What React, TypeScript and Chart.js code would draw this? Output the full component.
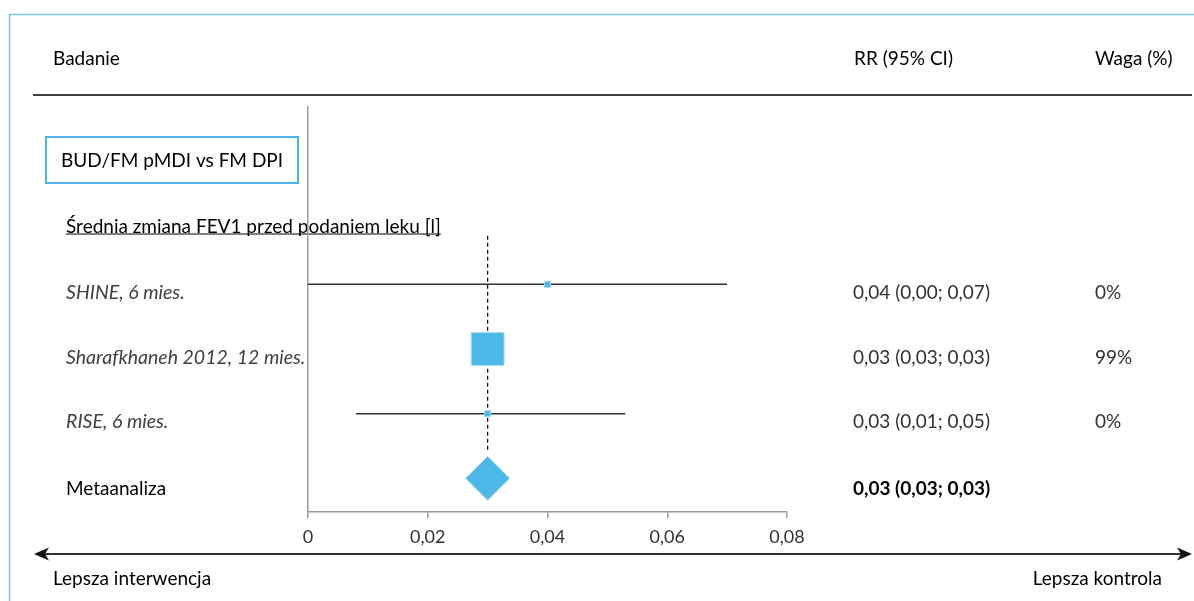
import React, { useEffect, useRef } from 'react';
import { Chart, registerables } from 'chart.js';

Chart.register(...registerables);

// ---- data ----
const studies = ['SHINE, 6 mies.', 'Sharafkhaneh 2012, 12 mies.', 'RISE, 6 mies.'];
const estimates = [0.04, 0.03, 0.03];
const ciLower = [0.0, 0.03, 0.008];
const ciUpper = [0.07, 0.03, 0.053];
const weights = [0, 99, 0];

const pooledLabel = 'Metaanaliza';
const pooledEstimate = [0.03];
const pooledLower = [0.03];
const pooledUpper = [0.03];

const xTicks = [0, 0.02, 0.04, 0.06, 0.08];
const columnHeaders = ['Badanie', 'RR (95% CI)', 'Waga (%)'];
const comparisonTitle = 'BUD/FM pMDI vs FM DPI';
const outcomeTitle = 'Średnia zmiana FEV1 przed podaniem leku [l]';
const directionLabels = ['Lepsza interwencja', 'Lepsza kontrola'];

// ---- styling ----
const FONT = 'Lato, "Open Sans", "DejaVu Sans", sans-serif';
const BLUE = '#4db8e8';
const BLUE_EDGE = '#a9daf2';
const W = 1194;
const H = 601;

const fmt = (v: number) => (v === 0 ? '0' : v.toFixed(2).replace('.', ','));
const fmt2 = (v: number) => v.toFixed(2).replace('.', ',');
const fmtCI = (e: number, lo: number, hi: number) => `${fmt2(e)} (${fmt2(lo)}; ${fmt2(hi)})`;

// marker size grows with the study weight
const markerRadius = (w: number) => 4.3 + 1.9 * Math.sqrt(w);

function arrowHead(ctx: CanvasRenderingContext2D, tipX: number, y: number, dir: number) {
  ctx.beginPath();
  ctx.moveTo(tipX, y);
  ctx.lineTo(tipX - dir * 15, y - 6.5);
  ctx.lineTo(tipX - dir * 11, y);
  ctx.lineTo(tipX - dir * 15, y + 6.5);
  ctx.closePath();
  ctx.fill();
}

const forestDecor = {
  id: 'forestDecor',
  beforeDraw(chart: any) {
    const ctx: CanvasRenderingContext2D = chart.ctx;
    ctx.save();
    ctx.fillStyle = '#ffffff';
    ctx.fillRect(0, 0, chart.width, chart.height);
    // outer frame
    ctx.strokeStyle = '#7dc4ea';
    ctx.lineWidth = 1.5;
    ctx.strokeRect(9.5, 14.5, 1300, 700);

    // outcome heading (underlined), under the axis line
    ctx.textBaseline = 'middle';
    ctx.textAlign = 'left';
    ctx.fillStyle = '#000';
    ctx.font = `19px ${FONT}`;
    ctx.fillText(outcomeTitle, 66, 227);
    const ow = ctx.measureText(outcomeTitle).width;
    ctx.strokeStyle = '#000';
    ctx.lineWidth = 1.2;
    ctx.beginPath();
    ctx.moveTo(66, 234);
    ctx.lineTo(66 + ow, 234);
    ctx.stroke();
    ctx.restore();
  },
  afterDraw(chart: any) {
    const ctx: CanvasRenderingContext2D = chart.ctx;
    const y = chart.scales.y;
    ctx.save();
    ctx.textBaseline = 'middle';

    // column headers
    ctx.fillStyle = '#000';
    ctx.font = `19px ${FONT}`;
    ctx.textAlign = 'left';
    ctx.fillText(columnHeaders[0], 53, 59);
    ctx.fillText(columnHeaders[1], 854, 59);
    ctx.fillText(columnHeaders[2], 1095, 59);

    // header rule
    ctx.strokeStyle = '#404040';
    ctx.lineWidth = 2;
    ctx.beginPath();
    ctx.moveTo(33, 95);
    ctx.lineTo(1192, 95);
    ctx.stroke();

    // comparison box
    ctx.fillStyle = '#fff';
    ctx.fillRect(46, 137, 252, 46);
    ctx.strokeStyle = '#4cb4e8';
    ctx.lineWidth = 2;
    ctx.strokeRect(46, 137, 252, 46);
    ctx.fillStyle = '#000';
    ctx.textAlign = 'center';
    ctx.fillText(comparisonTitle, 172, 161);

    // study rows
    ctx.textAlign = 'left';
    studies.forEach((name, i) => {
      const py = y.getPixelForValue(i + 1) + 8.5;
      ctx.font = `italic 19.5px ${FONT}`;
      ctx.fillStyle = '#404040';
      ctx.fillText(name, 66, py);
      ctx.font = `19px ${FONT}`;
      ctx.fillStyle = '#333';
      ctx.fillText(fmtCI(estimates[i], ciLower[i], ciUpper[i]), 853, py);
      ctx.fillText(`${weights[i]}%`, 1095, py);
    });

    // pooled row
    const my = y.getPixelForValue(studies.length + 1) + 11;
    ctx.fillStyle = '#000';
    ctx.font = `19px ${FONT}`;
    ctx.fillText(pooledLabel, 66, my);
    ctx.font = `bold 19px ${FONT}`;
    ctx.fillText(fmtCI(pooledEstimate[0], pooledLower[0], pooledUpper[0]), 853, my);

    // direction arrow
    ctx.strokeStyle = '#333';
    ctx.fillStyle = '#111';
    ctx.lineWidth = 2;
    ctx.beginPath();
    ctx.moveTo(40, 554);
    ctx.lineTo(1186, 554);
    ctx.stroke();
    arrowHead(ctx, 34, 554, -1);
    arrowHead(ctx, 1192, 554, 1);

    ctx.fillStyle = '#000';
    ctx.font = `19px ${FONT}`;
    ctx.textAlign = 'left';
    ctx.fillText(directionLabels[0], 53, 579);
    ctx.textAlign = 'right';
    ctx.fillText(directionLabels[1], 1162, 579);

    ctx.restore();
  },
};

export default function App() {
  const canvasRef = useRef<HTMLCanvasElement | null>(null);

  useEffect(() => {
    const canvas = canvasRef.current;
    if (!canvas) return;

    const rows = studies.map((_, i) => i + 1);
    const pooledRow = studies.length + 1;

    const chart = new Chart(canvas, {
      type: 'scatter',
      data: {
        datasets: [
          {
            type: 'scatter',
            label: 'Badania',
            data: estimates.map((e, i) => ({ x: e, y: rows[i] })),
            pointStyle: 'rect',
            pointRadius: weights.map(markerRadius),
            backgroundColor: BLUE,
            borderColor: BLUE_EDGE,
            borderWidth: 1,
            order: 0,
          },
          {
            type: 'scatter',
            label: pooledLabel,
            data: pooledEstimate.map((e) => ({ x: e, y: pooledRow })),
            pointStyle: 'rectRot',
            pointRadius: 22,
            backgroundColor: BLUE,
            borderColor: BLUE_EDGE,
            borderWidth: 1,
            order: 0,
          },
          ...studies.map((s, i) => ({
            type: 'line' as const,
            label: s,
            data: [
              { x: ciLower[i], y: rows[i] },
              { x: ciUpper[i], y: rows[i] },
            ],
            borderColor: '#333',
            borderWidth: 1.5,
            pointRadius: 0,
            showLine: true,
            order: 2,
          })),
          {
            type: 'line',
            label: 'ref',
            data: [
              { x: pooledEstimate[0], y: 0.25 },
              { x: pooledEstimate[0], y: 3.6 },
            ],
            borderColor: '#111',
            borderWidth: 1.3,
            borderDash: [4, 3],
            pointRadius: 0,
            showLine: true,
            order: 3,
          },
        ],
      },
      options: {
        responsive: false,
        animation: false,
        devicePixelRatio: 1,
        layout: { padding: { left: 308, right: W - 787, top: 107, bottom: H - 512 - 40 } },
        plugins: { legend: { display: false }, tooltip: { enabled: false } },
        scales: {
          x: {
            type: 'linear',
            min: xTicks[0],
            max: xTicks[xTicks.length - 1],
            afterBuildTicks: (scale: any) => {
              scale.ticks = xTicks.map((v) => ({ value: v }));
            },
            afterFit: (scale: any) => {
              scale.height = 40;
            },
            grid: { drawOnChartArea: false, drawTicks: true, tickLength: 6, color: '#9a9a9a', lineWidth: 1.5 },
            border: { display: true, color: '#9a9a9a', width: 1.5 },
            ticks: {
              padding: 8,
              color: '#333',
              font: { family: FONT, size: 18 },
              maxRotation: 0,
              callback: (v: any) => fmt(Number(v)),
            },
          },
          y: {
            type: 'linear',
            min: -1.742,
            max: 4.521,
            reverse: true,
            afterFit: (scale: any) => {
              scale.width = 0;
            },
            grid: { display: false },
            border: { display: true, color: '#9a9a9a', width: 1.5 },
            ticks: { display: false },
          },
        },
      },
      plugins: [forestDecor],
    });

    return () => chart.destroy();
  }, []);

  return (
    <div style={{ position: 'absolute', left: 0, top: 0, width: W, height: H, background: '#fff' }}>
      <canvas ref={canvasRef} width={W} height={H} style={{ display: 'block', width: W, height: H }} />
    </div>
  );
}
